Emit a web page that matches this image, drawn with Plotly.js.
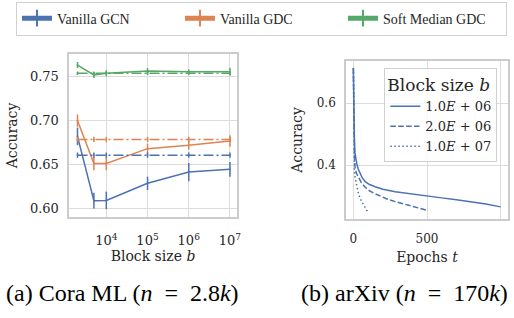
<!DOCTYPE html>
<html>
<head>
<meta charset="utf-8">
<script src="https://cdn.plot.ly/plotly-3.0.1.min.js"></script>
<style>
html,body{margin:0;padding:0;background:#fff;}
#chart{width:514px;height:318px;}
</style>
</head>
<body>
<div id="chart"></div>
<script>
// ---- (a) Cora ML: accuracy vs block size ----
const blockSizes = [2000, 5000, 1e4, 1e5, 1e6, 1e7];
const gcnAcc     = [0.682, 0.6087, 0.609, 0.6285, 0.6413, 0.6444];
const gcnErr     = [0.010, 0.009, 0.010, 0.0076, 0.0104, 0.0084];
const gdcAcc     = [0.700, 0.651, 0.651, 0.668, 0.672, 0.6767];
const gdcErr     = [0.007, 0.0076, 0.0076, 0.0057, 0.005, 0.0066];
const smAcc      = [0.7633, 0.752, 0.7539, 0.7565, 0.7557, 0.7557];
const smErr      = [0.0035, 0.0035, 0.0035, 0.0035, 0.0025, 0.0045];
// full-graph reference values (dash-dot lines)
const gcnRef     = [0.6606, 0.6606, 0.6606, 0.6606, 0.6606, 0.6606];
const gcnRefErr  = [0.003, 0.003, 0.003, 0.003, 0.003, 0.003];
const gdcRef     = [0.6785, 0.6785, 0.6785, 0.6785, 0.6785, 0.6785];
const gdcRefErr  = [0.003, 0.003, 0.003, 0.003, 0.003, 0.003];
const smRef      = [0.7540, 0.7540, 0.7540, 0.7540, 0.7540, 0.7540];
const smRefErr   = [0.002, 0.002, 0.002, 0.002, 0.002, 0.002];
const seriesNames = ['Vanilla GCN', 'Vanilla GDC', 'Soft Median GDC'];
const xTickVals  = [1e4, 1e5, 1e6, 1e7];
const xTickText  = ['10<sup>4</sup>', '10<sup>5</sup>', '10<sup>6</sup>', '10<sup>7</sup>'];

// ---- (b) arXiv: accuracy vs epochs ----
const epochs1e6 = [0, 2, 4, 7, 11, 16, 23, 33, 45, 60, 80, 110, 148, 200, 284, 398, 500, 600, 700, 800, 900, 1000];
const acc1e6    = [0.713, 0.62, 0.55, 0.49, 0.44, 0.42, 0.405, 0.388, 0.374, 0.36, 0.347, 0.338, 0.331, 0.323, 0.315, 0.307, 0.300, 0.295, 0.289, 0.283, 0.275, 0.266];
const epochs2e6 = [0, 2, 4, 7, 11, 20, 34, 57, 80, 102, 135, 170, 220, 284, 340, 398, 450, 500];
const acc2e6    = [0.713, 0.58, 0.50, 0.44, 0.395, 0.375, 0.363, 0.342, 0.33, 0.32, 0.311, 0.304, 0.293, 0.283, 0.276, 0.269, 0.262, 0.255];
const epochs1e7 = [0, 2, 4, 7, 12, 23, 33, 45, 56, 68, 83, 100];
const acc1e7    = [0.713, 0.55, 0.46, 0.385, 0.36, 0.331, 0.312, 0.294, 0.283, 0.272, 0.261, 0.249];
const blockLabels = ['1.0<i>E</i> + 06', '2.0<i>E</i> + 06', '1.0<i>E</i> + 07'];

const BLUE = '#4c72b0', ORANGE = '#dd8452', GREEN = '#55a868';
const TXT = '#262626';
const SERIF = 'DejaVu Serif, serif';
const TIMES = 'Liberation Serif, Times New Roman, serif';

function errTrace(x, y, e, color, name, dash, showlegend) {
  return {
    type: 'scatter', x: x, y: y, name: name, xaxis: 'x', yaxis: 'y',
    mode: 'lines+markers', legend: 'legend', showlegend: showlegend,
    line: {color: color, width: 1.5, dash: dash},
    marker: {symbol: 'line-ns-open', size: 1, color: color, line: {color: color, width: 1.5}},
    error_y: {type: 'data', array: e, visible: true, color: color, thickness: 1.5, width: 0}
  };
}
const DASHDOT = '10px,3px,2px,3px';
const traces = [
  errTrace(blockSizes, gcnAcc, gcnErr, BLUE, seriesNames[0], 'solid', true),
  errTrace(blockSizes, gdcAcc, gdcErr, ORANGE, seriesNames[1], 'solid', true),
  errTrace(blockSizes, smAcc, smErr, GREEN, seriesNames[2], 'solid', true),
  errTrace(blockSizes, gcnRef, gcnRefErr, BLUE, seriesNames[0], DASHDOT, false),
  errTrace(blockSizes, gdcRef, gdcRefErr, ORANGE, seriesNames[1], DASHDOT, false),
  errTrace(blockSizes, smRef, smRefErr, GREEN, seriesNames[2], DASHDOT, false),
  {type: 'scatter', mode: 'lines', x: epochs1e6, y: acc1e6, name: blockLabels[0], xaxis: 'x2', yaxis: 'y2', legend: 'legend2', line: {color: BLUE, width: 1.5}},
  {type: 'scatter', mode: 'lines', x: epochs2e6, y: acc2e6, name: blockLabels[1], xaxis: 'x2', yaxis: 'y2', legend: 'legend2', line: {color: BLUE, width: 1.5, dash: '5.5px,2.4px'}},
  {type: 'scatter', mode: 'lines', x: epochs1e7, y: acc1e7, name: blockLabels[2], xaxis: 'x2', yaxis: 'y2', legend: 'legend2', line: {color: BLUE, width: 1.5, dash: '1.5px,2.5px'}}
];

const axisCommon = {
  showline: true, mirror: true, linecolor: '#cccccc', linewidth: 1.5,
  showgrid: true, gridcolor: '#dcdcdc', gridwidth: 1, zeroline: false,
  ticks: '', automargin: true, tickcolor: TXT
};

const layout = {
  width: 514, height: 318,
  margin: {l: 0, r: 0, t: 0, b: 0, autoexpand: false},
  paper_bgcolor: '#ffffff', plot_bgcolor: '#ffffff',
  font: {family: SERIF, color: TXT, size: 13},
  showlegend: true,
  xaxis: Object.assign({}, axisCommon, {
    type: 'log', range: [3.095, 7.17], domain: [0.13424, 0.46109], anchor: 'y',
    tickvals: xTickVals, ticktext: xTickText, tickfont: {family: SERIF, size: 13, color: TXT},
    ticklabelstandoff: 11,
    title: {text: 'Block size <i>b</i>', font: {family: SERIF, size: 14, color: TXT}, standoff: 4}
  }),
  yaxis: Object.assign({}, axisCommon, {
    range: [0.5901, 0.7759], domain: [0.31761, 0.83019], anchor: 'x',
    dtick: 0.05, tick0: 0.6, tickformat: '.2f', tickfont: {family: SERIF, size: 13, color: TXT},
    ticklabelstandoff: 6,
    title: {text: 'Accuracy', font: {family: SERIF, size: 14, color: TXT}, standoff: 9}
  }),
  xaxis2: Object.assign({}, axisCommon, {
    range: [-52, 1052], domain: [0.67257, 0.98891], anchor: 'y2',
    tickvals: [0, 500, 1000], tickfont: {family: SERIF, size: 12, color: TXT},
    ticklabelstandoff: 8,
    title: {text: 'Epochs <i>t</i>', font: {family: SERIF, size: 14, color: TXT}, standoff: 7}
  }),
  yaxis2: Object.assign({}, axisCommon, {
    range: [0.226, 0.737], domain: [0.31038, 0.80912], anchor: 'x2',
    tickvals: [0.4, 0.6], tickformat: '.1f', tickfont: {family: SERIF, size: 12, color: TXT},
    ticklabelstandoff: 6,
    title: {text: 'Accuracy', font: {family: SERIF, size: 14, color: TXT}, standoff: 11}
  }),
  legend: {
    orientation: 'h', x: 0.0311, y: 0.995, xanchor: 'left', yanchor: 'top',
    entrywidth: 118, entrywidthmode: 'pixels', itemsizing: 'constant',
    font: {family: TIMES, size: 14, color: TXT},
    bgcolor: '#ffffff', bordercolor: '#d0d0d0', borderwidth: 1
  },
  legend2: {
    x: 0.7477, y: 0.7852, xanchor: 'left', yanchor: 'top',
    title: {text: 'Block size <i>b</i>', font: {family: SERIF, size: 17, color: TXT}},
    font: {family: SERIF, size: 13, color: TXT},
    bgcolor: 'rgba(255,255,255,0.8)', bordercolor: '#d0d0d0', borderwidth: 1
  },
  annotations: [
    {text: '(a) Cora ML (<i>n</i>&nbsp; = &nbsp;2.8<i>k</i>)', xref: 'paper', yref: 'paper', x: 122.5/514, y: 1 - 292.5/318,
     xanchor: 'center', yanchor: 'middle', showarrow: false, font: {family: TIMES, size: 24, color: '#000000'}},
    {text: '(b) arXiv (<i>n</i>&nbsp; = &nbsp;170<i>k</i>)', xref: 'paper', yref: 'paper', x: 404/514, y: 1 - 292.5/318,
     xanchor: 'center', yanchor: 'middle', showarrow: false, font: {family: TIMES, size: 24, color: '#000000'}}
  ]
};

Plotly.newPlot('chart', traces, layout, {displayModeBar: false, staticPlot: true});
</script>
</body>
</html>
